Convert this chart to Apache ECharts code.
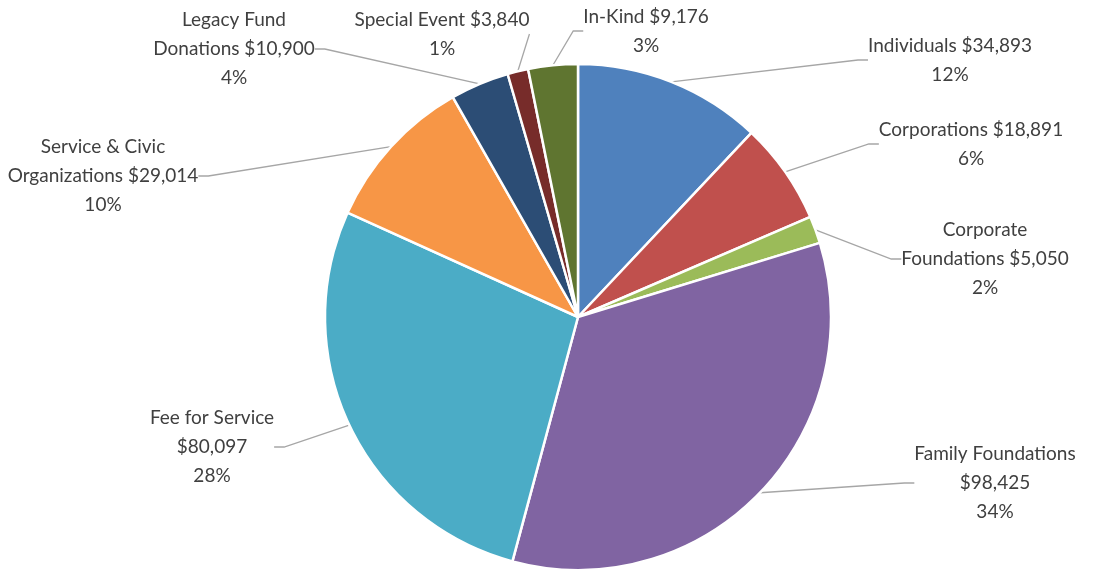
<!DOCTYPE html>
<html>
<head>
<meta charset="utf-8">
<script src="https://cdn.jsdelivr.net/npm/echarts@6/dist/echarts.min.js"></script>
<style>
  html, body { margin: 0; padding: 0; background: #fff; }
  #pie { width: 1095px; height: 569px; }
</style>
</head>
<body>
<div id="pie"></div>
<script>
// categories, clockwise from 12 o'clock
let names = ['Individuals', 'Corporations', 'Corporate\nFoundations', 'Family Foundations',
  'Fee for Service', 'Service & Civic\nOrganizations', 'Legacy Fund\nDonations', 'Special Event', 'In-Kind'];
let amounts = [34893, 18891, 5050, 98425, 80097, 29014, 10900, 3840, 9176];
// percentages as printed on the chart
let percents = [12, 6, 2, 34, 28, 10, 4, 1, 3];
// value placed on its own line under the name?
let valueOwnLine = [false, false, false, true, true, false, false, false, false];
let colors = ['#4F81BD', '#C0504D', '#9BBB59', '#8064A2', '#4BACC6', '#F79646', '#2C4D75', '#772C2A', '#5F7530'];
// label block centres
let labelPos = [[950, 60], [971, 144], [985, 259], [995, 483], [212, 447], [103, 176], [234, 49], [442, 34], [646, 31]];

function echarts_pie() {
  let myChart = echarts.init(document.getElementById('pie'));
  let data = [];
  for (let i = 0; i < names.length; i++) {
    data.push({ name: names[i], value: amounts[i], itemStyle: { color: colors[i] } });
  }
  var option = {
    backgroundColor: '#ffffff',
    animation: false,
    series: [{
      type: 'pie',
      center: [578, 317],
      radius: 253,
      startAngle: 90,
      clockwise: true,
      data: data,
      itemStyle: {
        borderColor: '#ffffff',
        borderWidth: 2.5
      },
      label: {
        show: true,
        color: '#404040',
        fontFamily: 'Lato',
        fontSize: 19,
        lineHeight: 29,
        align: 'center',
        formatter: function (p) {
          let v = '$' + p.value.toLocaleString('en-US');
          let sep = valueOwnLine[p.dataIndex] ? '\n' : ' ';
          return p.name + sep + v + '\n' + percents[p.dataIndex] + '%';
        }
      },
      labelLine: {
        show: true,
        length: 15,
        length2: 10,
        lineStyle: { color: '#A6A6A6', width: 1.3 }
      },
      labelLayout: function (params) {
        let pos = labelPos[params.dataIndex];
        return {
          x: pos[0],
          y: pos[1],
          align: 'center',
          verticalAlign: 'middle'
        };
      }
    }]
  };
  myChart.setOption(option);
  window.addEventListener('resize', function () {
    myChart.resize();
  });
}
echarts_pie();
</script>
</body>
</html>
